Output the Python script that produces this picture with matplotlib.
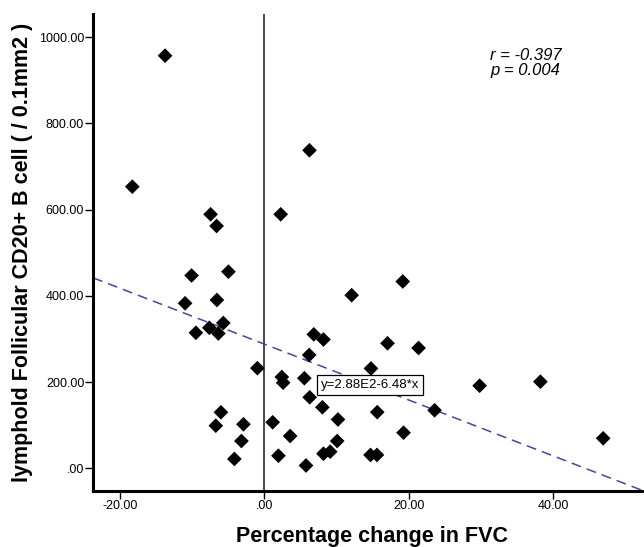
import matplotlib
matplotlib.use("Agg")
import matplotlib.pyplot as plt
import numpy as np

# Data
fvc_change = [-13.77, -18.31, -7.46, -6.63, -10.10, -4.99, -11.00, -6.59, -5.70, -7.64,
              -9.50, -6.39, -0.98, -6.03, -6.74, -2.91, -3.19, -4.17,
              2.25, 6.24, 1.14, 2.41, 2.59, 5.53, 6.20, 6.84, 8.18, 12.09, 19.17, 17.06,
              21.36, 14.76, 6.27, 8.03, 10.19, 15.63, 23.58, 3.56, 10.08, 19.28,
              1.94, 8.18, 9.11, 14.70, 15.59, 5.76, 29.82, 38.24, 46.94]
cd20_cells = [957.3, 653.4, 589.3, 562.2, 447.3, 456.1, 382.8, 390.5, 337.1, 326.0,
              314.4, 312.8, 232.3, 129.9, 98.8, 102.1, 63.3, 21.6,
              589.3, 737.8, 106.7, 211.8, 198.6, 209.0, 262.9, 310.7, 298.8, 401.6, 433.4, 290.0,
              279.1, 231.6, 164.7, 141.5, 113.2, 130.2, 134.6, 74.9, 63.3, 82.6,
              29.2, 33.9, 38.5, 30.9, 30.9, 6.5, 191.6, 200.9, 69.6]

fit_intercept = 288.0
fit_slope = -6.48

x_ticks = [-20, 0, 20, 40]
x_ticklabels = ["-20.00", ".00", "20.00", "40.00"]
y_ticks = [0, 200, 400, 600, 800, 1000]
y_ticklabels = [".00", "200.00", "400.00", "600.00", "800.00", "1000.00"]

plt.rcParams['font.family'] = ['Liberation Sans', 'DejaVu Sans']

W, H = 644, 547
fig = plt.figure(figsize=(W / 100, H / 100), dpi=100)
ax = fig.add_axes([93 / W, (H - 491) / H, (644 - 93) / W, (491 - 14) / H])

xlim = (-23.76, 52.6)
ylim = (-52.7, 1054)
ax.set_xlim(*xlim)
ax.set_ylim(*ylim)

# vertical reference line at x = 0
ax.axvline(0, color='#3a3a3a', lw=1.3, zorder=1)

# regression line
xs = np.array(xlim)
ax.plot(xs, fit_intercept + fit_slope * xs, color='#45459a', lw=1.1,
        dashes=(6.5, 4), zorder=2)

ax.scatter(fvc_change, cd20_cells, marker='D', s=7.5 ** 2, color='black',
           edgecolors='none', zorder=3)

ax.text(7.82, 193.3, "y=2.88E2-6.48*x", fontsize=9.5, ha='left', va='center',
        zorder=4, bbox=dict(boxstyle='square,pad=0.3', fc='white', ec='black', lw=0.9))

ax.text(0.721, 0.928, "r = -0.397\np = 0.004", transform=ax.transAxes, fontsize=12,
        style='italic', ha='left', va='top', linespacing=0.98)

for s in ['top', 'right']:
    ax.spines[s].set_visible(False)
for s in ['left', 'bottom']:
    ax.spines[s].set_linewidth(2.2)
    ax.spines[s].set_color('black')

ax.set_xticks(x_ticks)
ax.set_xticklabels(x_ticklabels)
ax.set_yticks(y_ticks)
ax.set_yticklabels(y_ticklabels)
ax.tick_params(axis='both', length=5.5, width=1, labelsize=9, pad=0.8, direction='out')

ax.set_xlabel("Percentage change in FVC", fontsize=15.5, fontweight='bold', va='baseline')
ax.xaxis.set_label_coords(0.507, (491 - 542) / 477)
ax.set_ylabel("lymphold Follicular CD20+ B cell ( / 0.1mm2 )", fontsize=15.5,
              fontweight='bold', va='center')
ax.yaxis.set_label_coords((22.5 - 93) / 551, 0.5)

fig.savefig("out.png", dpi=100)
